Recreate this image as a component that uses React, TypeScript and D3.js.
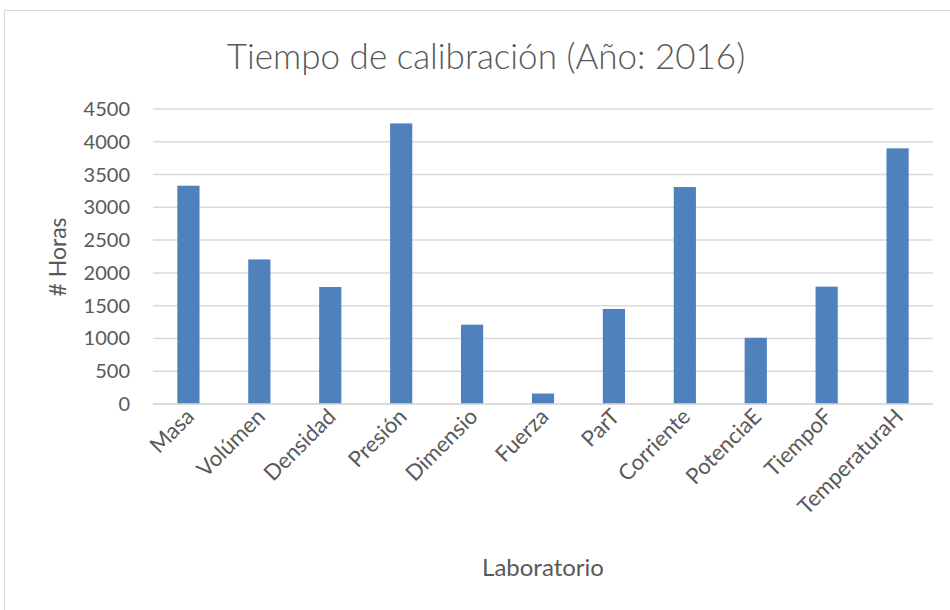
import { useEffect, useRef } from "react";
import * as d3 from "d3";

const categories = ["Masa", "Volúmen", "Densidad", "Presión", "Dimensio", "Fuerza", "ParT", "Corriente", "PotenciaE", "TiempoF", "TemperaturaH"];
const hours = [3330, 2205, 1785, 4280, 1210, 160, 1450, 3310, 1010, 1790, 3900];
const yTicks = [0, 500, 1000, 1500, 2000, 2500, 3000, 3500, 4000, 4500];

const title = "Tiempo de calibración (Año: 2016)";
const xTitle = "Laboratorio";
const yTitle = "# Horas";

export default function App() {
  const ref = useRef<SVGSVGElement | null>(null);

  useEffect(() => {
    const width = 950;
    const height = 610;
    const svg = d3.select(ref.current);
    svg.selectAll("*").remove();

    const font = "Lato, 'Open Sans', sans-serif";
    const textColor = "#595959";

    svg.append("rect").attr("width", width).attr("height", height).attr("fill", "#fff");

    // chart frame (cut off at the right and bottom)
    svg
      .append("rect")
      .attr("x", 4.5)
      .attr("y", 10.5)
      .attr("width", 980)
      .attr("height", 640)
      .attr("fill", "none")
      .attr("stroke", "#d9d9d9");

    const x = d3.scaleBand().domain(categories).range([153, 933]).paddingInner(0.687).paddingOuter(0.343);
    const y = d3.scaleLinear().domain([0, 4500]).range([404, 109]);

    svg
      .selectAll("line.grid")
      .data(yTicks)
      .join("line")
      .attr("class", "grid")
      .attr("x1", 153)
      .attr("x2", 933)
      .attr("y1", (d) => y(d))
      .attr("y2", (d) => y(d))
      .attr("stroke", "#d9d9d9")
      .attr("stroke-width", 1.5);

    svg
      .selectAll("text.ytick")
      .data(yTicks)
      .join("text")
      .attr("class", "ytick")
      .attr("x", 130)
      .attr("y", (d) => y(d) + 7)
      .attr("text-anchor", "end")
      .attr("font-family", font)
      .attr("font-size", 20)
      .attr("fill", textColor)
      .text((d) => d);

    svg
      .selectAll("rect.bar")
      .data(hours)
      .join("rect")
      .attr("class", "bar")
      .attr("x", (_, i) => x(categories[i]) ?? 0)
      .attr("y", (d) => y(d))
      .attr("width", x.bandwidth())
      .attr("height", (d) => y(0) - y(d))
      .attr("fill", "#4f81bd");

    // redraw baseline over bars
    svg
      .append("line")
      .attr("x1", 153)
      .attr("x2", 933)
      .attr("y1", y(0))
      .attr("y2", y(0))
      .attr("stroke", "#d9d9d9")
      .attr("stroke-width", 1.5);

    svg
      .selectAll("text.xtick")
      .data(categories)
      .join("text")
      .attr("class", "xtick")
      .attr("transform", (d) => `translate(${(x(d) ?? 0) + x.bandwidth() / 2 + 7},${418}) rotate(-45)`)
      .attr("text-anchor", "end")
      .attr("font-family", font)
      .attr("font-size", 22)
      .attr("fill", textColor)
      .text((d) => d);

    svg
      .append("text")
      .attr("x", 486)
      .attr("y", 69)
      .attr("text-anchor", "middle")
      .attr("font-family", font)
      .attr("font-weight", 300)
      .attr("font-size", 35)
      .attr("fill", textColor)
      .text(title);

    svg
      .append("text")
      .attr("x", 543)
      .attr("y", 576)
      .attr("text-anchor", "middle")
      .attr("font-family", font)
      .attr("font-size", 24)
      .attr("fill", textColor)
      .text(xTitle);

    svg
      .append("text")
      .attr("transform", `translate(66,257) rotate(-90)`)
      .attr("text-anchor", "middle")
      .attr("font-family", font)
      .attr("font-size", 23)
      .attr("fill", textColor)
      .text(yTitle);
  }, []);

  return <svg ref={ref} width={950} height={610} style={{ position: "absolute", left: 0, top: 0 }} />;
}
